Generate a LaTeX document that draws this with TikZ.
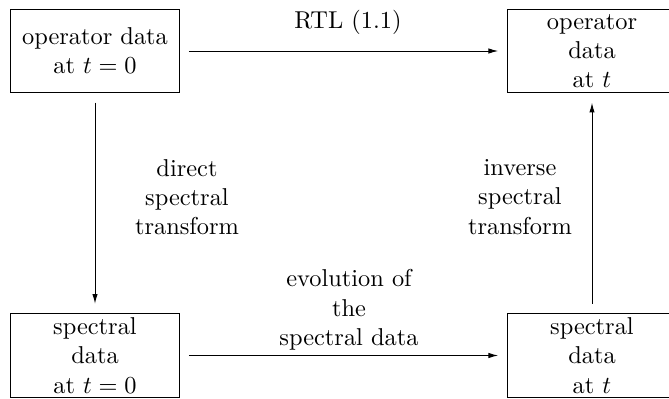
\documentclass[tikz,border=0pt]{standalone}
\usetikzlibrary{positioning, arrows.meta}

\begin{document}
\begin{tikzpicture}[x=0.41pt, y=-0.41pt,
    >={Latex[length=4pt, width=2.2pt]},
    databox/.style={draw, align=center, inner sep=0pt, outer sep=4pt,
                    minimum width=68.9pt, minimum height=34.4pt},
    steplabel/.style={align=center, inner sep=0pt}]
  \useasboundingbox (0,0) rectangle (669,399);

  % the four stages
  \node[databox] (opzero) at (95,51) {operator data\\at $t=0$};
  \node[databox] (opt) at (592,51)
       {\fontsize{10}{10.5}\selectfont operator\\data\\at $t$};
  \node[databox] (spzero) at (95,355.5)
       {\fontsize{10}{10.5}\selectfont spectral\\data\\at $t=0$};
  \node[databox] (spt) at (592,355.5)
       {\fontsize{10}{10.5}\selectfont spectral\\data\\at $t$};

  \draw[->] (opzero) -- (opt);
  \draw[->] (opzero) -- (spzero);
  \draw[->] (spzero) -- (spt);
  \draw[->] (spt) -- (opt);

  \node[steplabel] (rtl) at (348,22) {RTL (1.1)};
  \node[steplabel] (direct) at (187,197) {direct\\spectral\\transform};
  \node[steplabel] (inverse) at (520,197) {inverse\\spectral\\transform};
  \node[steplabel] (evol) at (349,310) {evolution of\\the\\spectral data};
\end{tikzpicture}
\end{document}
